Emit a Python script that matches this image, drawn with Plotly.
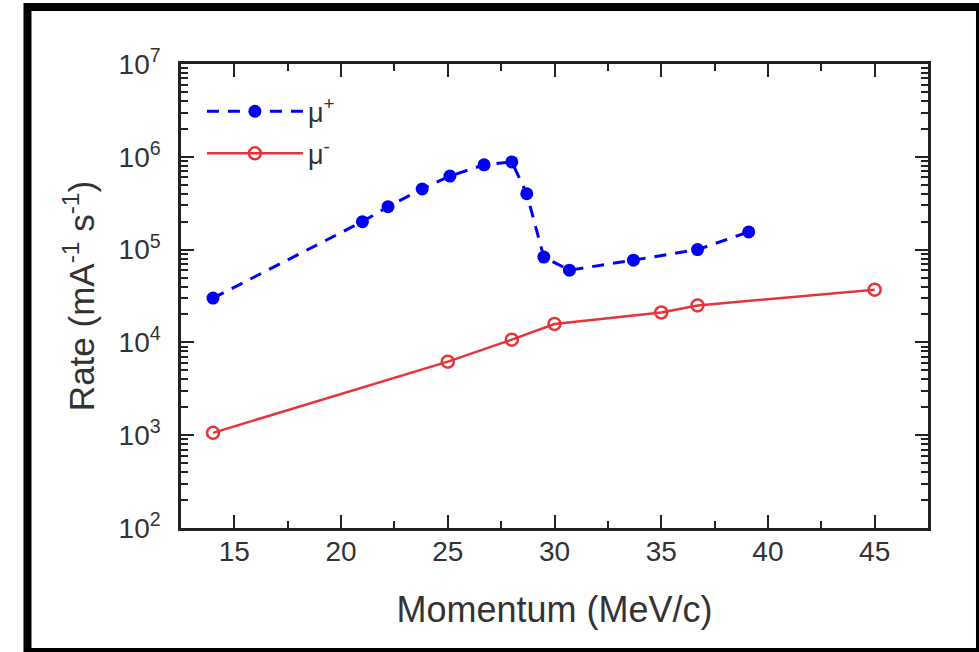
import plotly.graph_objects as go

# ---- data ----
mu_plus_p = [14.0, 21.0, 22.2, 23.8, 25.1, 26.7, 28.0, 28.7, 29.5, 30.7, 33.7, 36.7, 39.1]
mu_plus_rate = [3.0e4, 2.0e5, 2.9e5, 4.5e5, 6.2e5, 8.2e5, 8.8e5, 4.0e5, 8.3e4, 6.0e4, 7.7e4, 1.0e5, 1.55e5]

mu_minus_p = [14.0, 25.0, 28.0, 30.0, 35.0, 36.7, 45.0]
mu_minus_rate = [1.06e3, 6.2e3, 1.07e4, 1.58e4, 2.1e4, 2.5e4, 3.7e4]

x_ticks = [15, 20, 25, 30, 35, 40, 45]
y_exponents = [2, 3, 4, 5, 6, 7]
y_tickvals = [10 ** e for e in y_exponents]
y_ticktext = ["10<sup>%d</sup>" % e for e in y_exponents]

BLUE = "#0000f5"
RED = "#e6343a"
AX = "#222222"
TXT = "#333333"
FONT = "Liberation Sans, Arial, sans-serif"

fig = go.Figure()
fig.add_trace(go.Scatter(
    x=mu_plus_p, y=mu_plus_rate, mode="lines+markers", name="\u03bc<sup>+</sup>",
    legendgroup="a",
    line=dict(color=BLUE, width=3, dash="12px,9px"),
    marker=dict(symbol="circle", size=13, color=BLUE, line=dict(width=0)),
))
fig.add_trace(go.Scatter(
    x=mu_minus_p, y=mu_minus_rate, mode="lines+markers", name="\u03bc<sup>-</sup>",
    legendgroup="b",
    line=dict(color=RED, width=2.5),
    marker=dict(symbol="circle-open", size=12, color=RED, line=dict(width=2.5, color=RED)),
))

# outer black frame
fig.add_shape(type="rect", xref="paper", yref="paper",
              x0=-0.2055, x1=1.0696, y0=-0.2672, y1=1.1228,
              line=dict(color="black", width=8), fillcolor="rgba(0,0,0,0)", layer="above")

fig.update_layout(
    width=979, height=652, autosize=False,
    margin=dict(l=181, r=51, t=64, b=124),
    paper_bgcolor="white", plot_bgcolor="white",
    font=dict(family=FONT, color=TXT, size=26),
    showlegend=True,
    legend=dict(x=0.028, y=0.95, xanchor="left", yanchor="top",
                bgcolor="rgba(0,0,0,0)", font=dict(size=27, color=TXT),
                itemwidth=96, tracegroupgap=4),
    xaxis=dict(
        range=[12.5, 47.5], tickvals=x_ticks, showgrid=False, zeroline=False,
        showline=True, linewidth=2.5, linecolor=AX, mirror="ticks",
        ticks="inside", ticklen=13, tickwidth=2, tickcolor=AX,
        minor=dict(dtick=2.5, tick0=0, ticks="inside", ticklen=7, tickwidth=2, tickcolor=AX, showgrid=False),
        tickfont=dict(size=28, color=TXT), ticklabelstandoff=-3,
        title=dict(text="Momentum (MeV/c)", font=dict(size=36, color=TXT), standoff=31),
        automargin=False,
    ),
    yaxis=dict(
        type="log", range=[2, 7], tickvals=y_tickvals, ticktext=y_ticktext,
        showgrid=False, zeroline=False,
        showline=True, linewidth=2.5, linecolor=AX, mirror="ticks",
        ticks="inside", ticklen=13, tickwidth=2, tickcolor=AX,
        minor=dict(dtick="D1", ticks="inside", ticklen=7, tickwidth=2, tickcolor=AX, showgrid=False),
        tickfont=dict(size=28, color=TXT), ticklabelstandoff=12,
        title=dict(text="Rate (mA<sup>-1</sup> s<sup>-1</sup>)", font=dict(size=35, color=TXT), standoff=14),
        automargin=False,
    ),
)

fig.write_html("out.html", config={"displayModeBar": False},
               post_script="document.body.style.margin='0';")
